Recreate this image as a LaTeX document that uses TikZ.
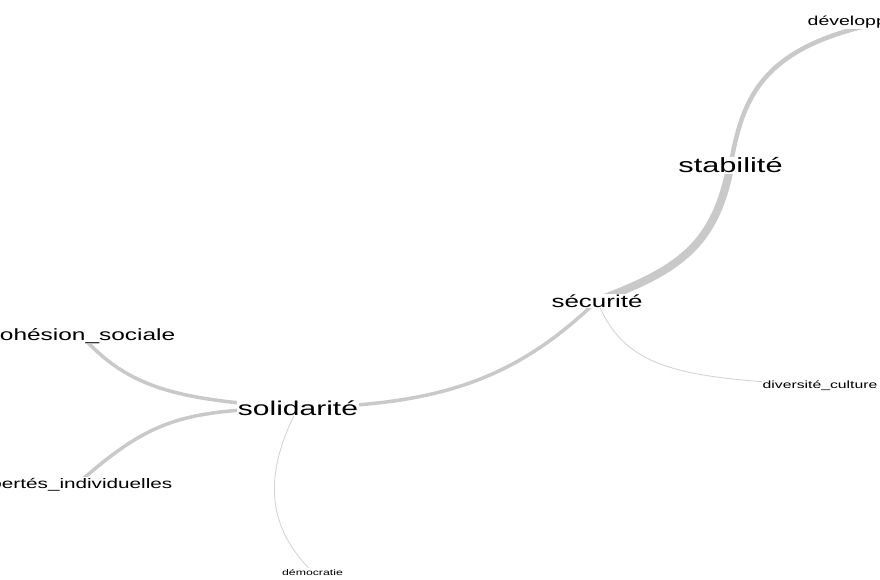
\documentclass[tikz,border=0pt]{standalone}
\usepackage{fontspec}
\setmainfont{Liberation Sans}
\usetikzlibrary{backgrounds}
\newcommand\widetext[1]{\scalebox{1.5}[1]{#1}}
\tikzset{
  lbl/.style={fill=white, inner sep=0.5pt, text=black},
  edge/.style={draw=black!21, line cap=round},
  thinedge/.style={draw=black!18, line width=0.8pt, line cap=round}
}
\begin{document}
\begin{tikzpicture}[x=1pt,y=-1pt]
\useasboundingbox (0,0) rectangle (880,580);
\clip (0,0) rectangle (880,580);
% nodes
\node[lbl, anchor=base, font=\fontsize{20}{20}\selectfont] (sol) at (298,415) {\widetext{solidarité}};
\node[lbl, anchor=base, font=\fontsize{20.5}{20}\selectfont] (sta) at (730.5,173) {\widetext{stabilité}};
\node[lbl, anchor=base, font=\fontsize{17.3}{17}\selectfont] (sec) at (597,307) {\widetext{sécurité}};
\node[lbl, anchor=base east, font=\fontsize{16.3}{16}\selectfont] (coh) at (176,340) {\widetext{cohésion\_sociale}};
\node[lbl, anchor=base east, font=\fontsize{13.8}{13}\selectfont] (lib) at (173,488) {\widetext{libertés\_individuelles}};
\node[lbl, anchor=base west, font=\fontsize{10.5}{10}\selectfont] (div) at (762,388) {\widetext{diversité\_culture}};
\node[lbl, anchor=base west, font=\fontsize{13}{13}\selectfont] (dev) at (807,26) {\widetext{développement}};
\node[lbl, anchor=base, font=\fontsize{8.2}{8}\selectfont] (dem) at (312.5,575) {\widetext{démocratie}};
% edges
\begin{pgfonlayer}{background}
\fill[white] (0,0) rectangle (880,580);
\draw[edge, line width=8pt] (sec.center) .. controls (680,270) and (715,245) .. (sta.center);
\draw[edge, line width=4.5pt] (sta.center) .. controls (742,100) and (760,50) .. (870,25);
\draw[edge, line width=3.5pt] (sol.center) .. controls (430,405) and (510,385) .. (sec.center);
\draw[edge, line width=3.5pt] (sol.center) .. controls (180,400) and (130,390) .. (coh.center);
\draw[edge, line width=3.5pt] (sol.center) .. controls (180,410) and (150,420) .. (lib.center);
\draw[thinedge] (sol.center) .. controls (260,480) and (270,530) .. (dem.center);
\draw[thinedge] (sec.center) .. controls (625,370) and (680,378) .. (div.center);
\end{pgfonlayer}
\end{tikzpicture}
\end{document}
